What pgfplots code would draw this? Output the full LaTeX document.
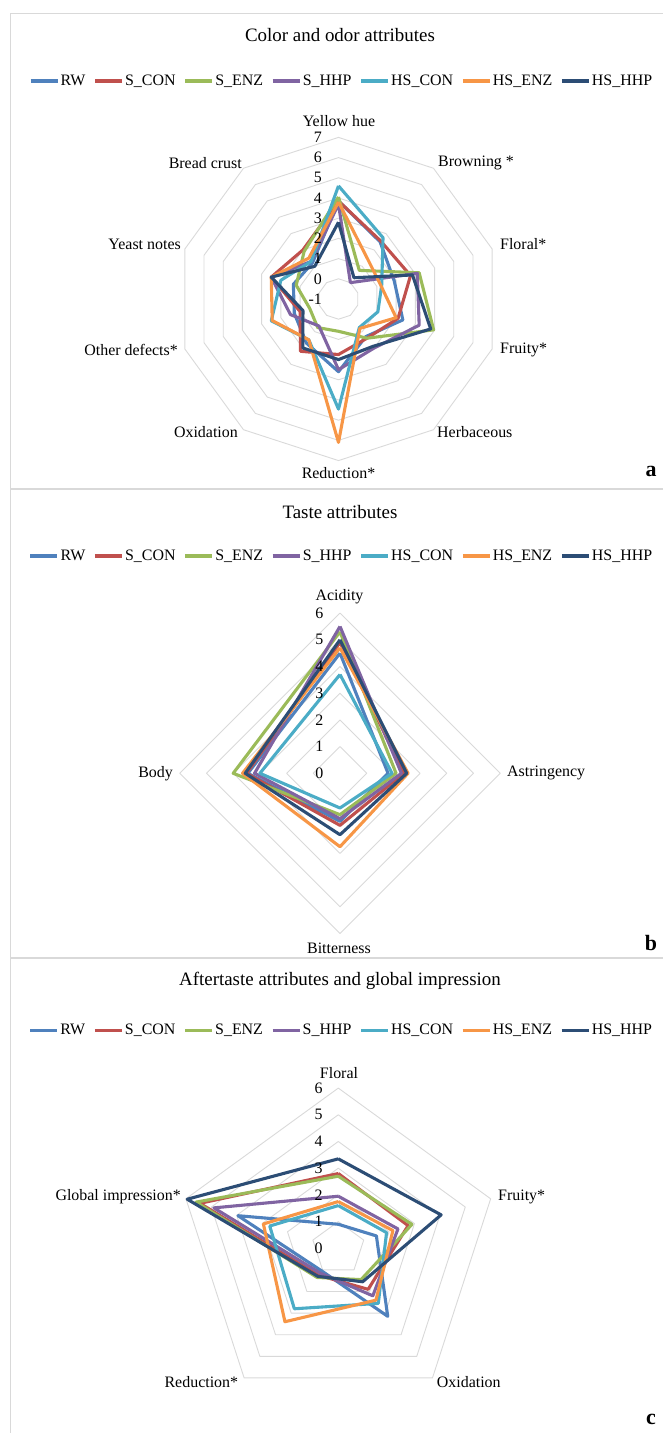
\documentclass[border=0pt]{standalone}
\usepackage{pgfplots}
\usepackage{pgfplotstable}
\pgfplotsset{compat=1.18}
\usepgfplotslibrary{polar}
\usepackage{fontspec}
\setmainfont{Liberation Serif}
\definecolor{cRW}{HTML}{4F81BD}
\definecolor{cSCON}{HTML}{C0504D}
\definecolor{cSENZ}{HTML}{9BBB59}
\definecolor{cSHHP}{HTML}{8064A2}
\definecolor{cHSCON}{HTML}{4BACC6}
\definecolor{cHSENZ}{HTML}{F79646}
\definecolor{cHSHHP}{HTML}{2C4D75}
\definecolor{gridc}{HTML}{D9D9D9}

\pgfplotstableread{
angle RW SCON SENZ SHHP HSCON HSENZ HSHHP
90  3.85 3.85 4.05 3.70 4.60 3.80 2.80
54  2.50 2.55 0.75 0.00 2.75 1.45 0.30
18  1.90 2.75 3.20 3.10 1.25 1.20 2.85
342 2.35 2.10 3.95 3.20 1.05 2.00 3.80
306 1.30 1.40 1.40 2.00 0.75 0.80 1.90
270 2.60 1.75 0.60 2.50 4.45 6.10 2.00
234 1.70 2.20 0.75 0.65 1.50 1.50 2.00
198 1.30 1.00 0.50 1.50 2.50 2.45 0.85
162 1.35 2.50 1.20 2.50 2.00 2.50 2.50
126 1.20 2.00 1.90 1.30 1.30 1.50 1.00
90  3.85 3.85 4.05 3.70 4.60 3.80 2.80
}\tabA

\pgfplotstableread{
angle RW SCON SENZ SHHP HSCON HSENZ HSHHP
90  4.50 4.90 5.30 5.50 3.70 4.70 5.00
0   1.80 2.40 2.10 2.30 1.95 2.55 2.50
270 1.80 1.95 1.55 1.70 1.30 2.75 2.30
180 3.45 3.50 4.00 3.20 3.00 3.65 3.55
90  4.50 4.90 5.30 5.50 3.70 4.70 5.00
}\tabB

\pgfplotstableread{
angle RW SCON SENZ SHHP HSCON HSENZ HSHHP
90  0.90 2.80 2.70 1.95 1.60 1.75 3.35
18  1.50 2.75 2.90 2.35 1.90 2.15 4.05
306 3.15 1.90 1.45 2.20 2.55 2.40 1.55
234 1.05 1.25 1.35 1.15 2.80 3.40 1.30
162 3.95 5.45 5.60 4.90 2.70 2.95 5.95
90  0.90 2.80 2.70 1.95 1.60 1.75 3.35
}\tabC

\pgfplotsset{
  legend image code/.code={\draw[#1, line width=3.2bp] (0bp,0bp) -- (27bp,0bp);},
  radar/.style={
    hide axis, clip=false, scale only axis, xmin=0, xmax=360, ymin=0,
    enlargelimits=false,
    legend columns=7,
    legend style={draw=none, fill=none, font=\fontsize{16}{19}\selectfont,
      anchor=center, /tikz/every even column/.append style={column sep=6.5bp},
      nodes={inner sep=1.5bp}},
    every axis plot/.append style={line width=3.1bp, line join=round},
  },
  gridl/.style={gridc, line width=0.9bp, forget plot},
  yf/.style={y filter/.expression={y+1}},
}
\tikzset{numlab/.style={anchor=east, inner sep=0pt, xshift=-16.5bp, font=\fontsize{16}{19}\selectfont}}

\begin{document}
\begin{tikzpicture}
% panel borders
\draw[gridc, line width=1.4bp] (10.5bp,944bp) rectangle (664bp,1419.7bp);
\draw[gridc, line width=1.4bp] (10.5bp,475bp) rectangle (664bp,944bp);
\draw[gridc, line width=1.4bp] (10.5bp,-2bp) rectangle (664bp,475bp);

% ---------- panel a ----------
\begin{polaraxis}[radar, at={(338.5bp,1134bp)}, anchor=origin,
  width=323.2bp, height=323.2bp, ymax=8,
  legend style={at={(0.5087,1.1745)}}]
\pgfplotsinvokeforeach{1,2,3,4,5,6,7,8}{
  \addplot[gridl] coordinates {(90,#1)(54,#1)(18,#1)(342,#1)(306,#1)(270,#1)(234,#1)(198,#1)(162,#1)(126,#1)(90,#1)};}
\addplot[cRW, yf] table[x=angle,y=RW]{\tabA};
\addplot[cSCON, yf] table[x=angle,y=SCON]{\tabA};
\addplot[cSENZ, yf] table[x=angle,y=SENZ]{\tabA};
\addplot[cSHHP, yf] table[x=angle,y=SHHP]{\tabA};
\addplot[cHSCON, yf] table[x=angle,y=HSCON]{\tabA};
\addplot[cHSENZ, yf] table[x=angle,y=HSENZ]{\tabA};
\addplot[cHSHHP, yf] table[x=angle,y=HSHHP]{\tabA};
\legend{RW,S\_CON,S\_ENZ,S\_HHP,HS\_CON,HS\_ENZ,HS\_HHP}
\node[numlab] at (axis cs:90,0) {-1};
\node[numlab] at (axis cs:90,1) {0};
\node[numlab] at (axis cs:90,2) {1};
\node[numlab] at (axis cs:90,3) {2};
\node[numlab] at (axis cs:90,4) {3};
\node[numlab] at (axis cs:90,5) {4};
\node[numlab] at (axis cs:90,6) {5};
\node[numlab] at (axis cs:90,7) {6};
\node[numlab] at (axis cs:90,8) {7};
\end{polaraxis}

% ---------- panel b ----------
\begin{polaraxis}[radar, at={(340bp,659.7bp)}, anchor=origin,
  width=320.4bp, height=320.4bp, ymax=6,
  legend style={at={(0.504,1.178)}}]
\pgfplotsinvokeforeach{1,2,3,4,5,6}{
  \addplot[gridl] coordinates {(90,#1)(0,#1)(270,#1)(180,#1)(90,#1)};}
\addplot[cRW] table[x=angle,y=RW]{\tabB};
\addplot[cSCON] table[x=angle,y=SCON]{\tabB};
\addplot[cSENZ] table[x=angle,y=SENZ]{\tabB};
\addplot[cSHHP] table[x=angle,y=SHHP]{\tabB};
\addplot[cHSCON] table[x=angle,y=HSCON]{\tabB};
\addplot[cHSENZ] table[x=angle,y=HSENZ]{\tabB};
\addplot[cHSHHP] table[x=angle,y=HSHHP]{\tabB};
\legend{RW,S\_CON,S\_ENZ,S\_HHP,HS\_CON,HS\_ENZ,HS\_HHP}
\node[numlab] at (axis cs:90,0) {0};
\node[numlab] at (axis cs:90,1) {1};
\node[numlab] at (axis cs:90,2) {2};
\node[numlab] at (axis cs:90,3) {3};
\node[numlab] at (axis cs:90,4) {4};
\node[numlab] at (axis cs:90,5) {5};
\node[numlab] at (axis cs:90,6) {6};
\end{polaraxis}

% ---------- panel c ----------
\begin{polaraxis}[radar, at={(338.3bp,184.7bp)}, anchor=origin,
  width=320.4bp, height=320.4bp, ymax=6,
  legend style={at={(0.509,1.181)}}]
\pgfplotsinvokeforeach{1,2,3,4,5,6}{
  \addplot[gridl] coordinates {(90,#1)(18,#1)(306,#1)(234,#1)(162,#1)(90,#1)};}
\addplot[cRW] table[x=angle,y=RW]{\tabC};
\addplot[cSCON] table[x=angle,y=SCON]{\tabC};
\addplot[cSENZ] table[x=angle,y=SENZ]{\tabC};
\addplot[cSHHP] table[x=angle,y=SHHP]{\tabC};
\addplot[cHSCON] table[x=angle,y=HSCON]{\tabC};
\addplot[cHSENZ] table[x=angle,y=HSENZ]{\tabC};
\addplot[cHSHHP] table[x=angle,y=HSHHP]{\tabC};
\legend{RW,S\_CON,S\_ENZ,S\_HHP,HS\_CON,HS\_ENZ,HS\_HHP}
\node[numlab, xshift=1bp] at (axis cs:90,0) {0};
\node[numlab, xshift=1bp] at (axis cs:90,1) {1};
\node[numlab, xshift=1bp] at (axis cs:90,2) {2};
\node[numlab, xshift=1bp] at (axis cs:90,3) {3};
\node[numlab, xshift=1bp] at (axis cs:90,4) {4};
\node[numlab, xshift=1bp] at (axis cs:90,5) {5};
\node[numlab, xshift=1bp] at (axis cs:90,6) {6};
\end{polaraxis}

% ---------- texts ----------
\begin{scope}[x=1bp, y=1bp, every node/.style={inner sep=0pt, font=\fontsize{16}{19}\selectfont}]
\node[font=\fontsize{19}{23}\selectfont] at (340,1398) {Color and odor attributes};
\node[font=\fontsize{19}{23}\selectfont] at (340,921.3) {Taste attributes};
\node[font=\fontsize{19}{23}\selectfont] at (340,452) {Aftertaste attributes and global impression};
\node[font=\fontsize{22}{26}\selectfont\bfseries] at (651,961.3) {a};
\node[font=\fontsize{22}{26}\selectfont\bfseries] at (651,490) {b};
\node[font=\fontsize{22}{26}\selectfont\bfseries] at (651,14) {c};
% panel a labels
\node at (339,1311.5) {Yellow hue};
\node[anchor=west] at (438,1269.7) {Browning *};
\node[anchor=west] at (500,1189) {Floral*};
\node[anchor=west] at (500,1083) {Fruity*};
\node[anchor=west] at (437,1001) {Herbaceous};
\node at (338.5,960) {Reduction*};
\node[anchor=east] at (238,1001) {Oxidation};
\node[anchor=east] at (178,1083) {Other defects*};
\node[anchor=east] at (181,1189) {Yeast notes};
\node[anchor=east] at (242,1269.7) {Bread crust};
% panel b labels
\node at (339.5,836.3) {Acidity};
\node[anchor=west] at (507,659.7) {Astringency};
\node at (339,484.7) {Bitterness};
\node[anchor=east] at (173,659.7) {Body};
% panel c labels
\node at (339,360.3) {Floral};
\node[anchor=west] at (498,236.3) {Fruity*};
\node[anchor=west] at (436.7,51.3) {Oxidation};
\node[anchor=east] at (238.3,51.3) {Reduction*};
\node[anchor=east] at (181,236.3) {Global impression*};
\end{scope}

\pgfresetboundingbox
\path (0bp,0bp) rectangle (663bp,1433bp);
\end{tikzpicture}
\end{document}
